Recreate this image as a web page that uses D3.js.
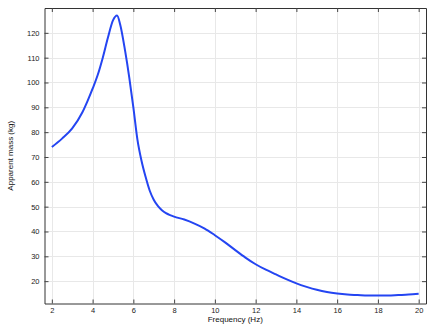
<!DOCTYPE html>
<html lang="en">
<head>
<meta charset="UTF-8">
<title>Apparent mass</title>
<script src="https://d3js.org/d3.v7.min.js"></script>
<style>
  body { margin: 0; background: #fff; }
  svg { display: block; font-family: "Liberation Sans", Arial, sans-serif; }
  .grid line { stroke: #e8e8e8; stroke-width: 1; }
  .tick-label { font-size: 7.5px; fill: #222; }
  .title { font-size: 8px; fill: #111; }
</style>
</head>
<body>
<svg id="chart"></svg>
<script>
  // frequency (Hz) and apparent mass (kg)
  const frequency = [2, 2.5, 3, 3.5, 3.75, 4, 4.25, 4.5, 4.75, 5.0, 5.2, 5.35, 5.6, 5.8, 6.0,
    6.2, 6.4, 6.6, 6.8, 7.0, 7.2, 7.4, 7.6, 7.8, 8.0, 8.5, 9.0, 9.5, 10, 10.5, 11, 11.5,
    12, 12.5, 13, 13.5, 14, 14.5, 15, 15.5, 16, 16.5, 17, 17.5, 18, 18.5, 19, 19.5, 20];
  const mass = [74.0, 77.4, 81.5, 88.0, 92.5, 97.5, 103.0, 110.0, 118.0, 125.0, 127.0, 123.5, 112.5, 102.0, 90.0,
    77.0, 68.5, 62.0, 56.5, 52.8, 50.3, 48.6, 47.4, 46.6, 46.0, 44.8, 43.2, 41.2, 38.5, 35.6, 32.5, 29.5,
    26.8, 24.6, 22.7, 20.8, 19.1, 17.7, 16.5, 15.6, 15.0, 14.6, 14.4, 14.2, 14.2, 14.2, 14.4, 14.6, 14.9];
  const xTicks = [2, 4, 6, 8, 10, 12, 14, 16, 18, 20];
  const yTicks = [20, 30, 40, 50, 60, 70, 80, 90, 100, 110, 120];

  const width = 434, height = 327;
  const margin = { top: 8, right: 8, bottom: 23.5, left: 44.5 };
  const svg = d3.select("#chart").attr("width", width).attr("height", height);

  const x = d3.scaleLinear().domain([1.64, 20.36]).range([margin.left, width - margin.right]);
  const y = d3.scaleLinear().domain([11, 130]).range([height - margin.bottom, margin.top]);

  const x0 = margin.left, x1 = width - margin.right;
  const y0 = height - margin.bottom, y1 = margin.top;

  // grid
  const grid = svg.append("g").attr("class", "grid");
  grid.selectAll(".gx").data(xTicks).enter().append("line")
    .attr("x1", d => Math.round(x(d)) + 0.5).attr("x2", d => Math.round(x(d)) + 0.5)
    .attr("y1", y1).attr("y2", y0);
  grid.selectAll(".gy").data(yTicks).enter().append("line")
    .attr("y1", d => Math.round(y(d)) + 0.5).attr("y2", d => Math.round(y(d)) + 0.5)
    .attr("x1", x0).attr("x2", x1);

  // curve
  const points = frequency.map((f, i) => [f, mass[i]]);
  svg.append("path")
    .datum(points)
    .attr("fill", "none")
    .attr("stroke", "#2445f2")
    .attr("stroke-width", 2)
    .attr("stroke-linejoin", "round")
    .attr("d", d3.line().curve(d3.curveMonotoneX).x(d => x(d[0])).y(d => y(d[1])));

  // axes: ticks inward on all four sides
  const tickLen = 4;
  svg.append("g").attr("transform", `translate(0,${y0})`)
    .call(d3.axisBottom(x).tickValues(xTicks).tickSizeInner(-tickLen).tickSizeOuter(0).tickPadding(4.5))
    .call(g => g.selectAll("text").attr("class", "tick-label"));
  svg.append("g").attr("transform", `translate(0,${y1})`)
    .call(d3.axisTop(x).tickValues(xTicks).tickSizeInner(-tickLen).tickSizeOuter(0).tickFormat(""));
  svg.append("g").attr("transform", `translate(${x0},0)`)
    .call(d3.axisLeft(y).tickValues(yTicks).tickSizeInner(-tickLen).tickSizeOuter(0).tickPadding(5))
    .call(g => g.selectAll("text").attr("class", "tick-label"));
  svg.append("g").attr("transform", `translate(${x1},0)`)
    .call(d3.axisRight(y).tickValues(yTicks).tickSizeInner(-tickLen).tickSizeOuter(0).tickFormat(""));

  svg.selectAll(".domain").attr("stroke", "#333");
  svg.selectAll(".tick line").attr("stroke", "#444");
  svg.selectAll(".tick text").attr("font-family", null).attr("font-size", null);

  // titles
  svg.append("text").attr("class", "title")
    .attr("x", (x0 + x1) / 2).attr("y", 321.5)
    .attr("text-anchor", "middle")
    .text("Frequency (Hz)");
  svg.append("text").attr("class", "title")
    .attr("transform", `translate(13,${(y0 + y1) / 2}) rotate(-90)`)
    .attr("text-anchor", "middle")
    .text("Apparent mass (kg)");
</script>
</body>
</html>
